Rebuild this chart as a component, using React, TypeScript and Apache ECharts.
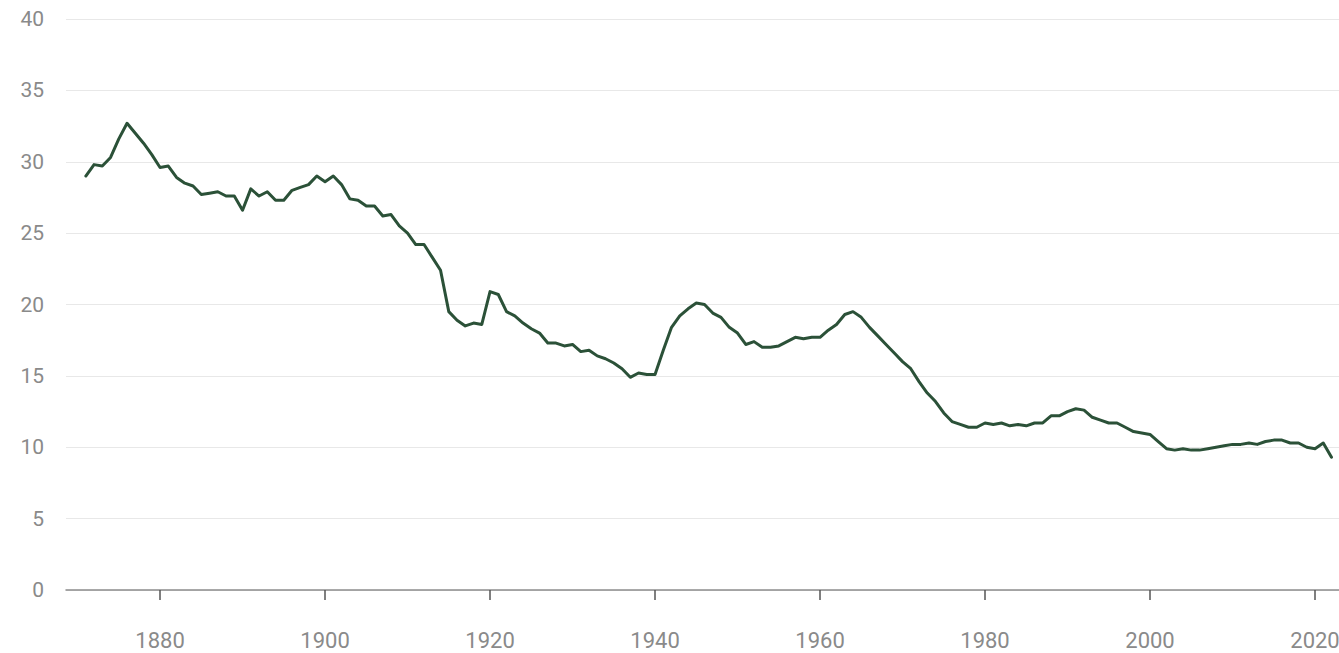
import React, { useEffect, useRef } from "react";
import * as echarts from "echarts";

const startYear = 1871;
const values: number[] = [
  // 1871-1880
  29.0, 29.8, 29.7, 30.3, 31.6, 32.7, 32.0, 31.3, 30.5, 29.6,
  // 1881-1890
  29.7, 28.9, 28.5, 28.3, 27.7, 27.8, 27.9, 27.6, 27.6, 26.6,
  // 1891-1900
  28.1, 27.6, 27.9, 27.3, 27.3, 28.0, 28.2, 28.4, 29.0, 28.6,
  // 1901-1910
  29.0, 28.4, 27.4, 27.3, 26.9, 26.9, 26.2, 26.3, 25.5, 25.0,
  // 1911-1920
  24.2, 24.2, 23.3, 22.4, 19.5, 18.9, 18.5, 18.7, 18.6, 20.9,
  // 1921-1930
  20.7, 19.5, 19.2, 18.7, 18.3, 18.0, 17.3, 17.3, 17.1, 17.2,
  // 1931-1940
  16.7, 16.8, 16.4, 16.2, 15.9, 15.5, 14.9, 15.2, 15.1, 15.1,
  // 1941-1950
  16.8, 18.4, 19.2, 19.7, 20.1, 20.0, 19.4, 19.1, 18.4, 18.0,
  // 1951-1960
  17.2, 17.4, 17.0, 17.0, 17.1, 17.4, 17.7, 17.6, 17.7, 17.7,
  // 1961-1970
  18.2, 18.6, 19.3, 19.5, 19.1, 18.4, 17.8, 17.2, 16.6, 16.0,
  // 1971-1980
  15.5, 14.6, 13.8, 13.2, 12.4, 11.8, 11.6, 11.4, 11.4, 11.7,
  // 1981-1990
  11.6, 11.7, 11.5, 11.6, 11.5, 11.7, 11.7, 12.2, 12.2, 12.5,
  // 1991-2000
  12.7, 12.6, 12.1, 11.9, 11.7, 11.7, 11.4, 11.1, 11.0, 10.9,
  // 2001-2010
  10.4, 9.9, 9.8, 9.9, 9.8, 9.8, 9.9, 10.0, 10.1, 10.2,
  // 2011-2020
  10.2, 10.3, 10.2, 10.4, 10.5, 10.5, 10.3, 10.3, 10.0, 9.9,
  // 2021-2022
  10.3, 9.3,
];
const xTickYears: number[] = [1880, 1900, 1920, 1940, 1960, 1980, 2000, 2020];
const yTicks: number[] = [0, 5, 10, 15, 20, 25, 30, 35, 40];

export default function App() {
  const ref = useRef<HTMLDivElement>(null);
  useEffect(() => {
    if (!ref.current) return;
    const chart = echarts.init(ref.current, undefined, { renderer: "svg" });
    const data = values.map((v, i) => [startYear + i, v]);
    chart.setOption({
      animation: false,
      backgroundColor: "#ffffff",
      grid: { left: 66, right: 12, top: 19, bottom: 63, containLabel: false },
      xAxis: {
        type: "value",
        min: 1868.6,
        max: 2024,
        axisLine: { show: true, lineStyle: { color: "#8c8c8c", width: 1.5 } },
        axisTick: {
          show: true,
          length: 10,
          customValues: xTickYears,
          lineStyle: { color: "#555555", width: 1.5 },
        },
        axisLabel: {
          customValues: xTickYears,
          margin: 39,
          color: "#8a8a8a",
          fontSize: 22,
          fontFamily: "Roboto, 'Liberation Sans', sans-serif",
          formatter: (v: number) => String(v),
        },
        splitLine: { show: false },
      },
      yAxis: {
        type: "value",
        min: yTicks[0],
        max: yTicks[yTicks.length - 1],
        interval: 5,
        axisLine: { show: false },
        axisTick: { show: false },
        axisLabel: {
          margin: 22,
          color: "#8a8a8a",
          fontSize: 21,
          fontFamily: "Roboto, 'Liberation Sans', sans-serif",
        },
        splitLine: { show: true, lineStyle: { color: "#e8e8e8", width: 1.2 } },
      },
      series: [
        {
          type: "line",
          data,
          symbol: "none",
          smooth: false,
          lineStyle: { color: "#2b5138", width: 3, join: "round", cap: "round" },
        },
      ],
    });
    return () => chart.dispose();
  }, []);
  return (
    <div
      style={{
        position: "absolute",
        left: 0,
        top: 0,
        width: 1339,
        height: 653,
        overflow: "hidden",
        background: "#fff",
      }}
    >
      <div ref={ref} style={{ width: 1360, height: 653 }} />
    </div>
  );
}
